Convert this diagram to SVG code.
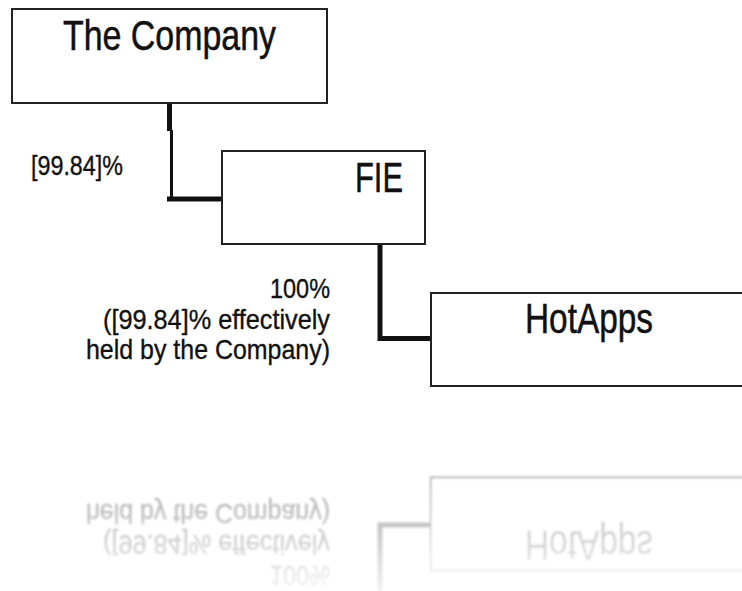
<svg xmlns="http://www.w3.org/2000/svg" width="742" height="591" viewBox="0 0 742 591">
  <style>
    .box { fill: #fff; stroke: #222; stroke-width: 2; }
    .title { font-family: "Liberation Sans", Arial, Helvetica, sans-serif; font-size: 42px; fill: #111; stroke: #111; stroke-width: 0.5; }
    .label { font-family: "Liberation Sans", Arial, Helvetica, sans-serif; font-size: 28px; fill: #111; stroke: #111; stroke-width: 0.35; }
    .wire { fill: none; stroke: #111; stroke-linecap: butt; stroke-linejoin: miter; }
  </style>
  <defs>
    <!-- fading mirror below the chart -->
    <linearGradient id="fadeGrad" gradientUnits="userSpaceOnUse" x1="0" y1="432" x2="0" y2="610">
      <stop offset="0" stop-color="#fff" stop-opacity="0.5"/>
      <stop offset="1" stop-color="#fff" stop-opacity="0"/>
    </linearGradient>
    <mask id="fade" maskUnits="userSpaceOnUse" x="0" y="430" width="742" height="161">
      <rect x="0" y="430" width="742" height="161" fill="url(#fadeGrad)"/>
    </mask>
    <filter id="soft" x="-5%" y="-5%" width="110%" height="110%">
      <feGaussianBlur stdDeviation="0.8"/>
    </filter>
  </defs>

  <rect width="742" height="591" fill="#fff"/>

  <g id="diagram">
    <g id="connectors">
      <!-- The Company -> FIE -->
      <line class="wire" x1="169.5" y1="103" x2="169.5" y2="131" stroke-width="5"/>
      <line class="wire" x1="171.5" y1="130" x2="171.5" y2="199" stroke-width="3"/>
      <line class="wire" x1="167" y1="199" x2="222" y2="199" stroke-width="5"/>
      <!-- FIE -> HotApps -->
      <polyline class="wire" points="380,245 380,338.5 431,338.5" stroke-width="5"/>
    </g>

    <g id="company">
      <rect class="box" x="12" y="9" width="315" height="94"/>
      <text class="title" x="63" y="50" font-size="41" textLength="213" lengthAdjust="spacingAndGlyphs">The Company</text>
    </g>

    <g id="fie">
      <rect class="box" x="222" y="151" width="203" height="93"/>
      <text class="title" x="355" y="192" textLength="48" lengthAdjust="spacingAndGlyphs">FIE</text>
    </g>

    <g id="hotapps">
      <rect class="box" x="431" y="293" width="330" height="93"/>
      <text class="title" x="525" y="333" textLength="128" lengthAdjust="spacingAndGlyphs">HotApps</text>
    </g>

    <g id="label-company-fie">
      <text class="label" x="31" y="174.5" textLength="92" lengthAdjust="spacingAndGlyphs">[99.84]%</text>
    </g>

    <g id="label-fie-hotapps">
      <text class="label" x="270" y="297.5" textLength="60" lengthAdjust="spacingAndGlyphs">100%</text>
      <text class="label" x="103" y="328.8" textLength="227" lengthAdjust="spacingAndGlyphs">([99.84]% effectively</text>
      <text class="label" x="86" y="359.3" textLength="244" lengthAdjust="spacingAndGlyphs">held by the Company)</text>
    </g>
  </g>

  <!-- mirrored copy about y = 431.75, fading out downwards -->
  <g id="reflection" mask="url(#fade)">
    <g filter="url(#soft)">
      <use href="#diagram" transform="matrix(1 0 0 -1 0 863.5)"/>
    </g>
  </g>
</svg>
